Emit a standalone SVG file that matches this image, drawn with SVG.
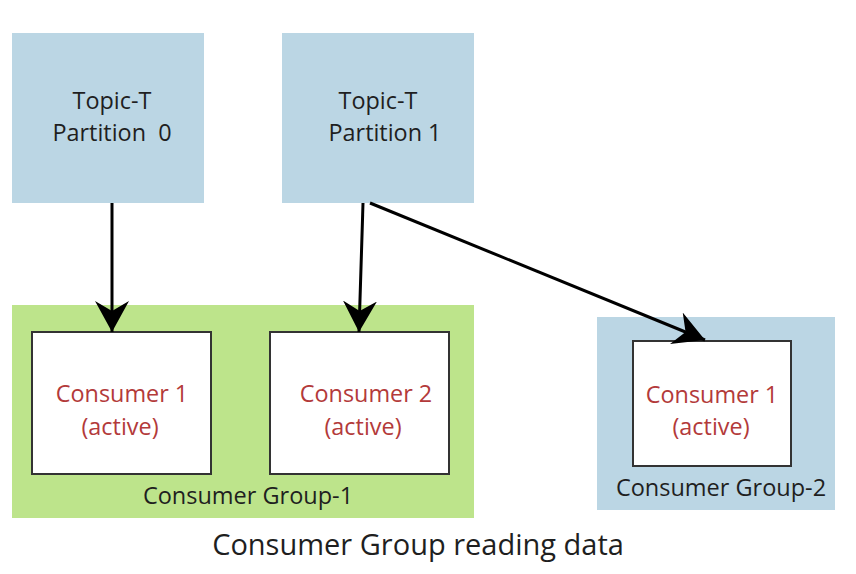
<svg xmlns="http://www.w3.org/2000/svg" width="856" height="574" viewBox="0 0 856 574">
<style>
.topic{fill:#bbd6e4}
.g1{fill:#bde48b}
.g2{fill:#bbd6e4}
.cons{fill:#ffffff;stroke:#333333;stroke-width:2}
text{font-family:"Open Sans","Liberation Sans",sans-serif;text-anchor:middle}
.tt{font-size:23.4px;fill:#1f1f1f;white-space:pre}
.ct{font-size:23.4px;fill:#b33a3a}
.gl{font-size:23.5px;fill:#1f1f1f}
.title{font-size:29px;fill:#1f1f1f}
.conn{stroke:#000;stroke-width:3;fill:none}
</style>
<defs>
<marker id="arr" markerUnits="userSpaceOnUse" markerWidth="32" markerHeight="34" viewBox="0 0 32 34" refX="31" refY="17" orient="auto">
<path d="M31,17 L0,0 L10,17 L0,34 Z" fill="#000"/>
</marker>
</defs>
<g id="topic0">
<rect class="topic" x="12" y="33" width="192" height="170"/>
<text class="tt" x="112" y="109">Topic-T</text>
<text class="tt" x="112" y="141" xml:space="preserve">Partition  0</text>
</g>
<g id="topic1">
<rect class="topic" x="282" y="33" width="192" height="170"/>
<text class="tt" x="378" y="109">Topic-T</text>
<text class="tt" x="385" y="141">Partition 1</text>
</g>
<g id="group1">
<rect class="g1" x="12" y="305" width="462" height="213"/>
<text class="gl" x="248" y="504">Consumer Group-1</text>
</g>
<g id="g1consumer1">
<rect class="cons" x="32" y="332" width="179" height="142"/>
<text class="ct" x="122" y="402">Consumer 1</text>
<text class="ct" x="120" y="435">(active)</text>
</g>
<g id="g1consumer2">
<rect class="cons" x="270" y="332" width="179" height="142"/>
<text class="ct" x="366" y="402">Consumer 2</text>
<text class="ct" x="363" y="435">(active)</text>
</g>
<g id="group2">
<rect class="g2" x="597" y="317" width="238" height="193"/>
<text class="gl" x="721" y="496">Consumer Group-2</text>
</g>
<g id="g2consumer1">
<rect class="cons" x="633" y="341" width="158" height="125"/>
<text class="ct" x="712" y="403">Consumer 1</text>
<text class="ct" x="711" y="435">(active)</text>
</g>
<g id="connectors">
<line class="conn" x1="112" y1="203" x2="112" y2="332" marker-end="url(#arr)"/>
<line class="conn" x1="363" y1="203" x2="359" y2="332" marker-end="url(#arr)"/>
<line class="conn" x1="370" y1="203" x2="705" y2="340" marker-end="url(#arr)"/>
</g>
<text class="title" x="418" y="555">Consumer Group reading data</text>
</svg>
